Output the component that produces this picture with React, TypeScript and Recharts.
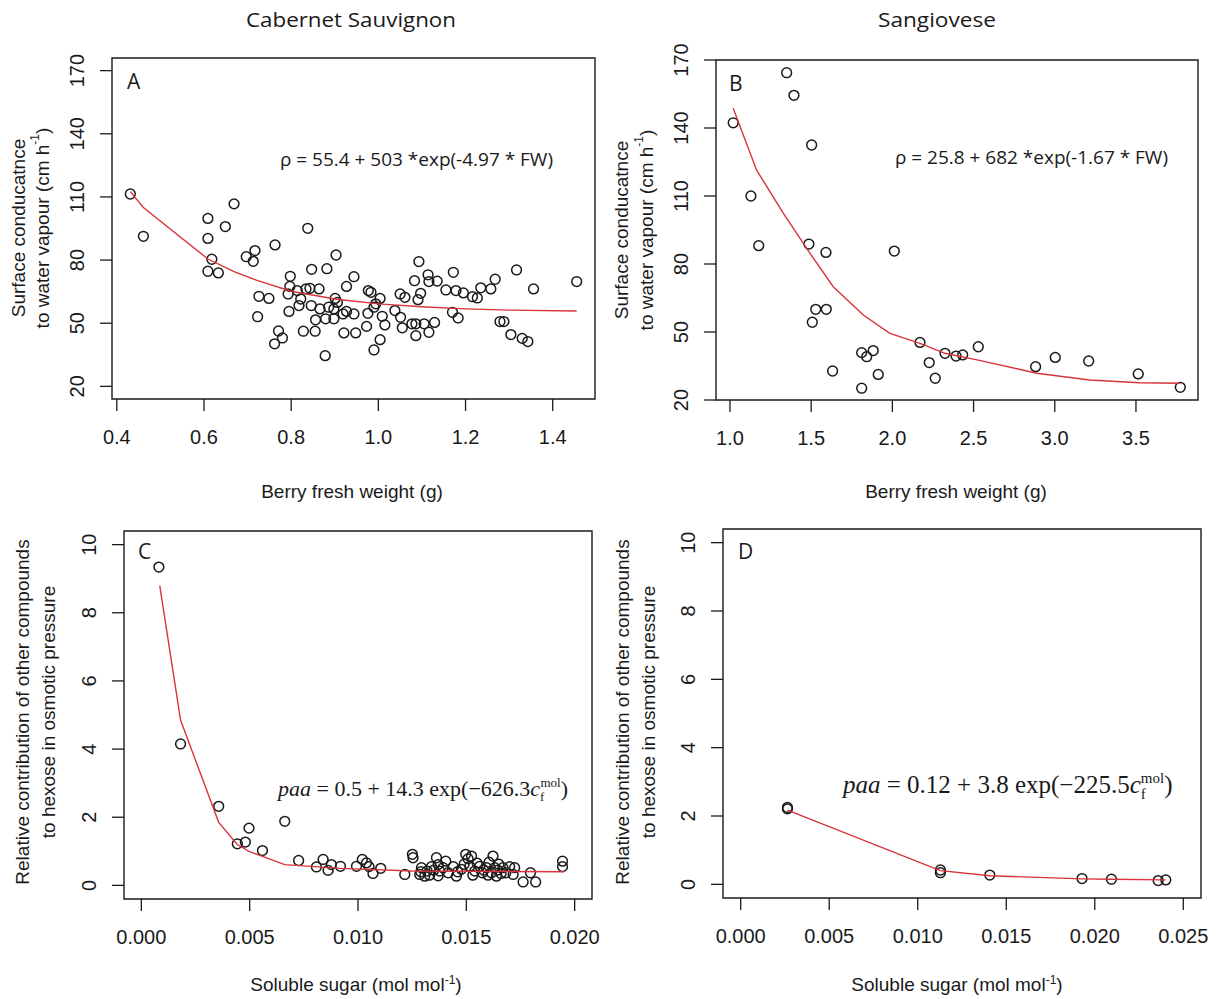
import React from "react";
import { ScatterChart, Scatter, XAxis, YAxis, ReferenceArea } from "recharts";

// ---- data ----

// Panel A: Cabernet Sauvignon, berry fresh weight (g) vs surface conductance
const cabernetWeight = [
  0.431, 0.461, 0.609, 0.609, 0.669, 0.649, 0.618, 0.609, 0.633, 0.697, 0.717, 0.713, 0.763,
  0.726, 0.749, 0.723, 0.771, 0.78, 0.762, 0.838, 0.798, 0.797, 0.793, 0.814, 0.834, 0.843,
  0.864, 0.847, 0.882, 0.903, 0.944, 0.927, 0.822, 0.818, 0.846, 0.866, 0.886, 0.901, 0.906,
  0.898, 0.919, 0.927, 0.944, 0.795, 0.856, 0.879, 0.898, 0.828, 0.855, 0.921, 0.948, 0.878,
  0.977, 0.983, 1.004, 0.994, 0.99, 0.976, 0.973, 1.009, 1.015, 1.004, 0.99, 1.038, 1.05,
  1.061, 1.051, 1.055, 1.083, 1.093, 1.114, 1.116, 1.097, 1.091, 1.135, 1.077, 1.086, 1.105,
  1.086, 1.116, 1.129, 1.155, 1.172, 1.178, 1.195, 1.17, 1.183, 1.216, 1.227, 1.235, 1.258,
  1.268, 1.279, 1.288, 1.317, 1.304, 1.33, 1.343, 1.356, 1.455,
];
const cabernetConductance = [
  111.4, 91.3, 99.8, 90.3, 106.7, 95.9, 80.4, 74.7, 73.9, 81.6, 84.5, 79.4, 87.2,
  62.8, 61.8, 53.1, 46.3, 43.0, 40.2, 95.1, 72.3, 67.5, 63.9, 65.5, 66.3, 66.6,
  66.3, 75.6, 75.9, 82.4, 72.1, 67.5, 61.5, 58.4, 58.4, 56.8, 57.6, 61.8, 59.9,
  56.8, 54.4, 55.6, 54.4, 55.6, 51.6, 52.1, 52.1, 46.2, 46.2, 45.4, 45.4, 34.6,
  65.5, 64.7, 61.8, 59.2, 57.6, 54.7, 48.5, 53.3, 49.2, 42.2, 37.3, 56.0, 63.9,
  62.3, 52.8, 47.8, 70.2, 79.3, 73.0, 69.8, 64.2, 61.2, 70.0, 49.7, 49.7, 49.7,
  44.1, 45.7, 50.4, 65.8, 74.2, 65.5, 64.4, 55.2, 52.5, 62.6, 62.0, 66.8, 66.3,
  70.9, 50.8, 50.8, 75.3, 44.6, 42.8, 41.3, 66.3, 69.8,
];
const cabernetFitWeight = [0.431, 0.461, 0.609, 0.669, 0.72, 0.8, 0.9, 1.0, 1.1, 1.2, 1.3, 1.455];
const cabernetFitConductance = [112.5, 105, 80.5, 74.5, 70.5, 65.2, 61.5, 59.2, 57.8, 56.8, 56.2, 55.8];

// Panel B: Sangiovese
const sangioveseWeight = [
  1.349, 1.394, 1.02, 1.503, 1.129, 1.177, 1.486, 1.591, 2.012, 1.528, 1.593, 1.507, 2.17,
  2.324, 1.811, 1.842, 1.882, 2.227, 1.632, 1.913, 2.264, 1.811, 2.392, 2.433, 2.529, 2.882,
  3.003, 3.209, 3.514, 3.773,
];
const sangioveseConductance = [
  164.4, 154.4, 142.3, 132.5, 110.0, 88.1, 88.8, 85.1, 85.7, 60.0, 60.0, 54.3, 45.4,
  40.6, 40.9, 39.1, 41.8, 36.5, 32.8, 31.3, 29.6, 25.2, 39.4, 39.9, 43.5, 34.7,
  38.8, 37.2, 31.5, 25.6,
];
const sangioveseFitWeight = [1.02, 1.164, 1.328, 1.493, 1.636, 1.821, 1.985, 2.17, 2.324, 2.529, 2.889, 3.215, 3.52, 3.77];
const sangioveseFitConductance = [148.7, 121.4, 102.4, 84.7, 70.0, 57.5, 49.4, 45.0, 40.6, 37.6, 31.8, 28.8, 27.6, 27.4];

// Panel C: Cabernet Sauvignon, soluble sugar vs relative contribution
const cabernetSugar = [
  0.00081, 0.00181, 0.00357, 0.00497, 0.00443, 0.0048, 0.00559, 0.00662, 0.00726, 0.00808,
  0.00839, 0.00877, 0.00862, 0.00919, 0.00993, 0.0102, 0.01039, 0.01051, 0.01069, 0.01105,
  0.01216, 0.01251, 0.01254, 0.01285, 0.01293, 0.01308, 0.01319, 0.01339, 0.01362, 0.0137,
  0.01377, 0.01393, 0.01405, 0.01416, 0.01454, 0.01477, 0.01497, 0.01508, 0.01524, 0.01516,
  0.01539, 0.01562, 0.01574, 0.01593, 0.01605, 0.01623, 0.01616, 0.01631, 0.01639, 0.01669,
  0.01682, 0.017, 0.01716, 0.01723, 0.01762, 0.01796, 0.0182, 0.01944, 0.01944, 0.0133,
  0.0135, 0.0144, 0.0146, 0.0149, 0.0153, 0.0155, 0.0158, 0.016, 0.01645, 0.0165,
  0.0166, 0.0129, 0.0137,
];
const cabernetPaa = [
  9.34, 4.15, 2.32, 1.68, 1.22, 1.27, 1.02, 1.88, 0.73, 0.54,
  0.76, 0.61, 0.44, 0.56, 0.56, 0.76, 0.66, 0.55, 0.35, 0.5,
  0.32, 0.91, 0.81, 0.32, 0.52, 0.27, 0.42, 0.55, 0.81, 0.61,
  0.42, 0.52, 0.71, 0.37, 0.27, 0.47, 0.91, 0.78, 0.86, 0.56,
  0.42, 0.56, 0.37, 0.52, 0.68, 0.86, 0.37, 0.52, 0.27, 0.52,
  0.37, 0.55, 0.32, 0.52, 0.1, 0.37, 0.1, 0.71, 0.55, 0.3,
  0.45, 0.55, 0.4, 0.62, 0.3, 0.65, 0.45, 0.3, 0.45, 0.62,
  0.35, 0.4, 0.28,
];
const cabernetFitSugar = [0.00085, 0.00181, 0.00357, 0.00443, 0.00497, 0.00662, 0.00919, 0.0125, 0.0195];
const cabernetFitPaa = [8.8, 4.85, 1.85, 1.2, 1.0, 0.61, 0.5, 0.42, 0.4];

// Panel D: Sangiovese
const sangioveseSugar = [0.00264, 0.00264, 0.01128, 0.01128, 0.01407, 0.01928, 0.02094, 0.02358, 0.02401];
const sangiovesePaa = [2.21, 2.25, 0.42, 0.34, 0.27, 0.17, 0.15, 0.11, 0.13];
const sangioveseFitSugar = [0.00264, 0.01128, 0.01407, 0.01928, 0.02094, 0.024];
const sangioveseFitPaa = [2.17, 0.4, 0.25, 0.16, 0.15, 0.13];

const conductanceTicks = [20, 50, 80, 110, 140, 170];
const paaTicks = [0, 2, 4, 6, 8, 10];

// ---- drawing ----

const INK = "#1a1a1a";
const RED = "#d8343c";
const SANS = "'Liberation Sans', Arial, sans-serif";
const TITLE = "'Open Sans', 'Noto Sans', sans-serif";
const SERIF = "'Liberation Serif', 'Times New Roman', serif";

const zip = (xs: number[], ys: number[]) => xs.map((x, i) => ({ x, y: ys[i] }));

const Ring = (props: any) => (
  <circle cx={props.cx} cy={props.cy} r={4.9} fill="none" stroke={INK} strokeWidth={1.5} />
);
const NoDot = () => <g />;

const YTick = (props: any) => {
  const { x, y, payload } = props;
  return (
    <text
      x={x}
      y={y}
      transform={`rotate(-90 ${x} ${y})`}
      textAnchor="middle"
      dominantBaseline="central"
      fontSize={20}
      fontFamily={SANS}
      fill={INK}
    >
      {payload.value}
    </text>
  );
};

// space around the plot box inside each chart
const YW = 60;
const XH = 60;
const TOP = 24;
const RIGHT = 34;

interface Box {
  x: number;
  y: number;
  w: number;
  h: number;
}

interface PanelProps {
  box: Box;
  xDomain: [number, number];
  yDomain: [number, number];
  xTicks: number[];
  yTicks: number[];
  xDigits: number;
  points: { x: number; y: number }[];
  fit: { x: number; y: number }[];
}

const Panel = ({ box, xDomain, yDomain, xTicks, yTicks, xDigits, points, fit }: PanelProps) => (
  <div style={{ position: "absolute", left: box.x - YW, top: box.y - TOP }}>
    <ScatterChart
      width={YW + box.w + RIGHT}
      height={TOP + box.h + XH}
      margin={{ top: TOP, right: RIGHT, bottom: 0, left: 0 }}
    >
      <XAxis
        type="number"
        dataKey="x"
        domain={xDomain}
        ticks={xTicks}
        interval={0}
        allowDataOverflow
        height={XH}
        axisLine={false}
        tickSize={12}
        tickMargin={19}
        tickLine={{ stroke: INK, strokeWidth: 1.3 }}
        tick={{ fill: INK, fontSize: 20, fontFamily: SANS }}
        tickFormatter={(v: number) => v.toFixed(xDigits)}
      />
      <YAxis
        type="number"
        dataKey="y"
        domain={yDomain}
        ticks={yTicks}
        interval={0}
        allowDataOverflow
        width={YW}
        axisLine={false}
        tickSize={12}
        tickMargin={23}
        tickLine={{ stroke: INK, strokeWidth: 1.3 }}
        tick={<YTick />}
      />
      <ReferenceArea
        x1={xDomain[0]}
        x2={xDomain[1]}
        y1={yDomain[0]}
        y2={yDomain[1]}
        fill="none"
        stroke={INK}
        strokeWidth={1.4}
      />
      <Scatter data={points} shape={<Ring />} isAnimationActive={false} />
      <Scatter
        data={fit}
        shape={<NoDot />}
        line={{ stroke: RED, strokeWidth: 1.4 }}
        lineType="joint"
        isAnimationActive={false}
      />
    </ScatterChart>
  </div>
);

const VText = ({ x, y, size = 19, children }: { x: number; y: number; size?: number; children: React.ReactNode }) => (
  <text
    x={x}
    y={y}
    transform={`rotate(-90 ${x} ${y})`}
    textAnchor="middle"
    dominantBaseline="central"
    fontSize={size}
    fontFamily={SANS}
    fill={INK}
  >
    {children}
  </text>
);

const Sup = ({ text }: { text: string }) => (
  <>
    <tspan dy={-7} fontSize={12}>
      {text}
    </tspan>
    <tspan dy={7}>)</tspan>
  </>
);

export default function App() {
  return (
    <div style={{ position: "absolute", left: 0, top: 0, width: 1220, height: 999, background: "#fff" }}>
      <Panel
        box={{ x: 112, y: 58, w: 483, h: 341 }}
        xDomain={[0.389, 1.497]}
        yDomain={[14, 176]}
        xTicks={[0.4, 0.6, 0.8, 1.0, 1.2, 1.4]}
        yTicks={conductanceTicks}
        xDigits={1}
        points={zip(cabernetWeight, cabernetConductance)}
        fit={zip(cabernetFitWeight, cabernetFitConductance)}
      />
      <Panel
        box={{ x: 716, y: 60, w: 482, h: 340 }}
        xDomain={[0.914, 3.882]}
        yDomain={[20, 170]}
        xTicks={[1.0, 1.5, 2.0, 2.5, 3.0, 3.5]}
        yTicks={conductanceTicks}
        xDigits={1}
        points={zip(sangioveseWeight, sangioveseConductance)}
        fit={zip(sangioveseFitWeight, sangioveseFitConductance)}
      />
      <Panel
        box={{ x: 124, y: 531, w: 468, h: 368 }}
        xDomain={[-0.0008, 0.0208]}
        yDomain={[-0.4, 10.4]}
        xTicks={[0, 0.005, 0.01, 0.015, 0.02]}
        yTicks={paaTicks}
        xDigits={3}
        points={zip(cabernetSugar, cabernetPaa)}
        fit={zip(cabernetFitSugar, cabernetFitPaa)}
      />
      <Panel
        box={{ x: 723, y: 529, w: 478, h: 369 }}
        xDomain={[-0.001, 0.026]}
        yDomain={[-0.4, 10.4]}
        xTicks={[0, 0.005, 0.01, 0.015, 0.02, 0.025]}
        yTicks={paaTicks}
        xDigits={3}
        points={zip(sangioveseSugar, sangiovesePaa)}
        fit={zip(sangioveseFitSugar, sangioveseFitPaa)}
      />

      <svg
        width={1220}
        height={999}
        style={{ position: "absolute", left: 0, top: 0, pointerEvents: "none" }}
      >
        {/* column titles */}
        <text x={351} y={27} textAnchor="middle" fontFamily={TITLE} fontSize={20} fill={INK} textLength={210} lengthAdjust="spacingAndGlyphs">
          Cabernet Sauvignon
        </text>
        <text x={937} y={27} textAnchor="middle" fontFamily={TITLE} fontSize={20} fill={INK} textLength={118} lengthAdjust="spacingAndGlyphs">
          Sangiovese
        </text>

        {/* panel letters */}
        <text x={127} y={89} fontFamily={TITLE} fontSize={21} fill={INK}>A</text>
        <text x={729} y={91} fontFamily={TITLE} fontSize={21} fill={INK}>B</text>
        <text x={138} y={559} fontFamily={TITLE} fontSize={21} fill={INK}>C</text>
        <text x={738} y={559} fontFamily={TITLE} fontSize={21} fill={INK}>D</text>

        {/* fitted equations */}
        <text x={280} y={166} fontFamily={TITLE} fontSize={19} fill={INK} textLength={273} lengthAdjust="spacingAndGlyphs">
          ρ = 55.4 + 503 *exp(-4.97 * FW)
        </text>
        <text x={895} y={164} fontFamily={TITLE} fontSize={19} fill={INK} textLength={273} lengthAdjust="spacingAndGlyphs">
          ρ = 25.8 + 682 *exp(-1.67 * FW)
        </text>
        <text x={278} y={796} fontFamily={SERIF} fontSize={22} fill={INK}>
          <tspan fontStyle="italic">paa</tspan>
          <tspan> = 0.5 + 14.3 exp(−626.3</tspan>
          <tspan fontStyle="italic">c</tspan>
          <tspan fontSize={13} dy={5}>f</tspan>
          <tspan fontSize={13} dx={-4} dy={-14}>mol</tspan>
          <tspan dy={9}>)</tspan>
        </text>
        <text x={843} y={793} fontFamily={SERIF} fontSize={25} fill={INK}>
          <tspan fontStyle="italic">paa</tspan>
          <tspan> = 0.12 + 3.8 exp(−225.5</tspan>
          <tspan fontStyle="italic">c</tspan>
          <tspan fontSize={15} dy={6}>f</tspan>
          <tspan fontSize={15} dx={-5} dy={-16}>mol</tspan>
          <tspan dy={10}>)</tspan>
        </text>

        {/* x axis titles */}
        <text x={352} y={498} textAnchor="middle" fontFamily={SANS} fontSize={19} fill={INK}>Berry fresh weight (g)</text>
        <text x={956} y={498} textAnchor="middle" fontFamily={SANS} fontSize={19} fill={INK}>Berry fresh weight (g)</text>
        <text x={356} y={991} textAnchor="middle" fontFamily={SANS} fontSize={19} fill={INK}>
          Soluble sugar (mol mol<Sup text="-1" />
        </text>
        <text x={957} y={991} textAnchor="middle" fontFamily={SANS} fontSize={19} fill={INK}>
          Soluble sugar (mol mol<Sup text="-1" />
        </text>

        {/* y axis titles */}
        <VText x={18} y={228}>Surface conducatnce</VText>
        <VText x={42} y={228}>
          to water vapour (cm h<Sup text="-1" />
        </VText>
        <VText x={621} y={230}>Surface conducatnce</VText>
        <VText x={646} y={230}>
          to water vapour (cm h<Sup text="-1" />
        </VText>
        <VText x={22} y={712}>Relative contribution of other compounds</VText>
        <VText x={48} y={712}>to hexose in osmotic pressure</VText>
        <VText x={622} y={712}>Relative contribution of other compounds</VText>
        <VText x={648} y={712}>to hexose in osmotic pressure</VText>
      </svg>
    </div>
  );
}
